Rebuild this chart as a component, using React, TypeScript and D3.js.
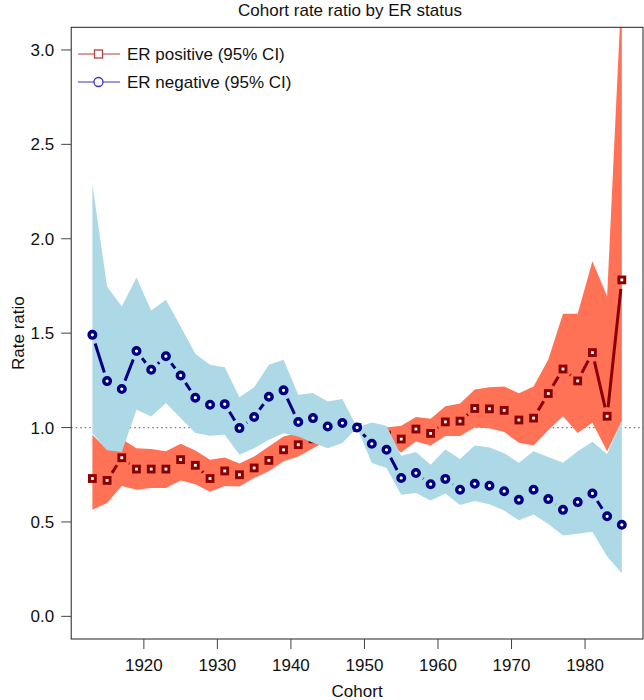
import React from "react";
import * as d3 from "d3";

const years = [1913,1915,1917,1919,1921,1923,1925,1927,1929,1931,1933,1935,1937,1939,1941,1943,1945,1947,1949,1951,1953,1955,1957,1959,1961,1963,1965,1967,1969,1971,1973,1975,1977,1979,1981,1983,1985];

const posRR = [0.73,0.72,0.84,0.78,0.78,0.78,0.83,0.80,0.73,0.77,0.75,0.786,0.826,0.882,0.909,0.94,0.97,0.99,1.00,0.97,0.96,0.939,0.992,0.969,1.030,1.034,1.101,1.099,1.091,1.040,1.050,1.180,1.310,1.247,1.397,1.060,1.782];
const posLo = [0.565,0.60,0.69,0.67,0.68,0.68,0.72,0.70,0.66,0.69,0.688,0.733,0.768,0.821,0.847,0.89,0.93,0.96,1.00,0.93,0.92,0.868,0.926,0.905,0.955,0.955,1.00,0.996,0.976,0.919,0.905,0.986,1.06,0.971,1.026,0.874,1.036];
const posHi = [0.962,0.882,0.94,0.89,0.886,0.874,0.914,0.879,0.83,0.842,0.81,0.847,0.90,0.953,0.971,0.99,1.00,1.01,1.00,1.01,1.00,1.01,1.056,1.047,1.113,1.127,1.202,1.214,1.218,1.182,1.218,1.36,1.603,1.603,1.881,1.695,3.35];

const negRR = [1.491,1.246,1.204,1.405,1.306,1.378,1.276,1.158,1.121,1.124,0.997,1.056,1.163,1.197,1.029,1.050,1.006,1.024,1.00,0.914,0.882,0.733,0.759,0.700,0.728,0.671,0.702,0.692,0.663,0.617,0.671,0.621,0.564,0.605,0.651,0.530,0.485];
const negLo = [0.97,0.88,0.87,1.094,1.059,1.13,1.05,0.971,0.957,0.962,0.856,0.89,0.935,0.97,0.953,0.919,0.891,0.918,1.00,0.812,0.786,0.644,0.653,0.614,0.651,0.590,0.611,0.594,0.560,0.509,0.540,0.489,0.428,0.438,0.448,0.317,0.228];
const negHi = [2.29,1.747,1.641,1.795,1.62,1.677,1.535,1.391,1.332,1.320,1.16,1.214,1.332,1.359,1.174,1.183,1.138,1.151,1.00,1.027,1.01,0.85,0.87,0.803,0.884,0.834,0.905,0.894,0.864,0.813,0.874,0.844,0.813,0.874,0.925,0.86,1.036];

const xTicks = [1920,1930,1940,1950,1960,1970,1980];
const yTicks = [0,0.5,1,1.5,2,2.5,3];
const legendLabels = ["ER positive (95% CI)", "ER negative (95% CI)"];

const W = 644, H = 700;
const L = 71.2, R = 643, T = 27.3, B = 639;
const FONT = "'Liberation Sans', Arial, Helvetica, sans-serif";

const x = d3.scaleLinear().domain([1910.12, 1987.88]).range([L, R]);
const y = d3.scaleLinear().domain([-0.12, 3.12]).range([B, T]);

function band(lo: number[], hi: number[]) {
  const a = d3.area<number>()
    .x((_, i) => x(years[i]))
    .y0((_, i) => y(lo[i]))
    .y1((_, i) => y(hi[i]));
  return a(years.map((_, i) => i)) || "";
}

function gapSegments(vals: number[], gap: number) {
  const segs: [number, number, number, number][] = [];
  for (let i = 0; i < years.length - 1; i++) {
    const x0 = x(years[i]), y0 = y(vals[i]);
    const x1 = x(years[i + 1]), y1 = y(vals[i + 1]);
    const dx = x1 - x0, dy = y1 - y0;
    const len = Math.hypot(dx, dy);
    if (len > 2 * gap) {
      const ux = dx / len, uy = dy / len;
      segs.push([x0 + ux * gap, y0 + uy * gap, x1 - ux * gap, y1 - uy * gap]);
    }
  }
  return segs;
}

export default function App() {
  const posCol = "#8B0000";
  const negCol = "#000080";
  const gap = 9;
  return (
    <svg width={W} height={H} style={{ position: "absolute", left: 0, top: 0, background: "#fff" }} fontFamily={FONT}>
      <defs>
        <clipPath id="plotClip">
          <rect x={L} y={T} width={R - L} height={B - T} />
        </clipPath>
      </defs>
      <rect x={0} y={0} width={W} height={H} fill="#fff" />
      <g clipPath="url(#plotClip)">
        <line x1={L} x2={R} y1={y(1)} y2={y(1)} stroke="#777" strokeWidth={1.2} strokeDasharray="1.5,3" />
        <path d={band(posLo, posHi)} fill="#FF7256" stroke="none" />
        {gapSegments(posRR, gap).map((s, i) => (
          <line key={"ps" + i} x1={s[0]} y1={s[1]} x2={s[2]} y2={s[3]} stroke={posCol} strokeWidth={3} />
        ))}
        {years.map((yr, i) => (
          <rect key={"pp" + i} x={x(yr) - 2.9} y={y(posRR[i]) - 2.9} width={5.8} height={5.8} fill="#fff" stroke={posCol} strokeWidth={3} />
        ))}
        <path d={band(negLo, negHi)} fill="#ADD8E6" stroke="none" />
        {gapSegments(negRR, gap).map((s, i) => (
          <line key={"ns" + i} x1={s[0]} y1={s[1]} x2={s[2]} y2={s[3]} stroke={negCol} strokeWidth={3} />
        ))}
        {years.map((yr, i) => (
          <circle key={"np" + i} cx={x(yr)} cy={y(negRR[i])} r={3.3} fill="#fff" stroke={negCol} strokeWidth={3.4} />
        ))}
      </g>
      <rect x={L} y={T} width={R - L} height={B - T} fill="none" stroke="#222" strokeWidth={1} />
      {yTicks.map((t) => (
        <g key={"yt" + t}>
          <line x1={L - 10} x2={L} y1={y(t)} y2={y(t)} stroke="#444" strokeWidth={1} />
          <text x={L - 17} y={y(t)} dy="0.36em" textAnchor="end" fontSize={17} fill="#111">{t.toFixed(1)}</text>
        </g>
      ))}
      {xTicks.map((t) => (
        <g key={"xt" + t}>
          <line x1={x(t)} x2={x(t)} y1={B} y2={B + 10} stroke="#444" strokeWidth={1} />
          <text x={x(t)} y={B + 32} textAnchor="middle" fontSize={17} fill="#111">{t}</text>
        </g>
      ))}
      <text x={350} y={16} textAnchor="middle" fontSize={17} fill="#111">Cohort rate ratio by ER status</text>
      <text x={(L + R) / 2} y={697} textAnchor="middle" fontSize={17} fill="#111">Cohort</text>
      <text transform={`translate(24, ${(T + B) / 2}) rotate(-90)`} textAnchor="middle" fontSize={17} fill="#111">Rate ratio</text>
      <g>
        <line x1={78} x2={120} y1={54} y2={54} stroke="#B84040" strokeWidth={1.2} />
        <rect x={94.5} y={50} width={8} height={8} fill="#fff" stroke="#B84040" strokeWidth={1.3} />
        <text x={127} y={54} dy="0.36em" fontSize={17} fill="#111">{legendLabels[0]}</text>
        <line x1={78} x2={120} y1={82} y2={82} stroke="#3636C0" strokeWidth={1.2} />
        <circle cx={98.5} cy={82} r={4.5} fill="#fff" stroke="#3636C0" strokeWidth={1.3} />
        <text x={127} y={82} dy="0.36em" fontSize={17} fill="#111">{legendLabels[1]}</text>
      </g>
    </svg>
  );
}
